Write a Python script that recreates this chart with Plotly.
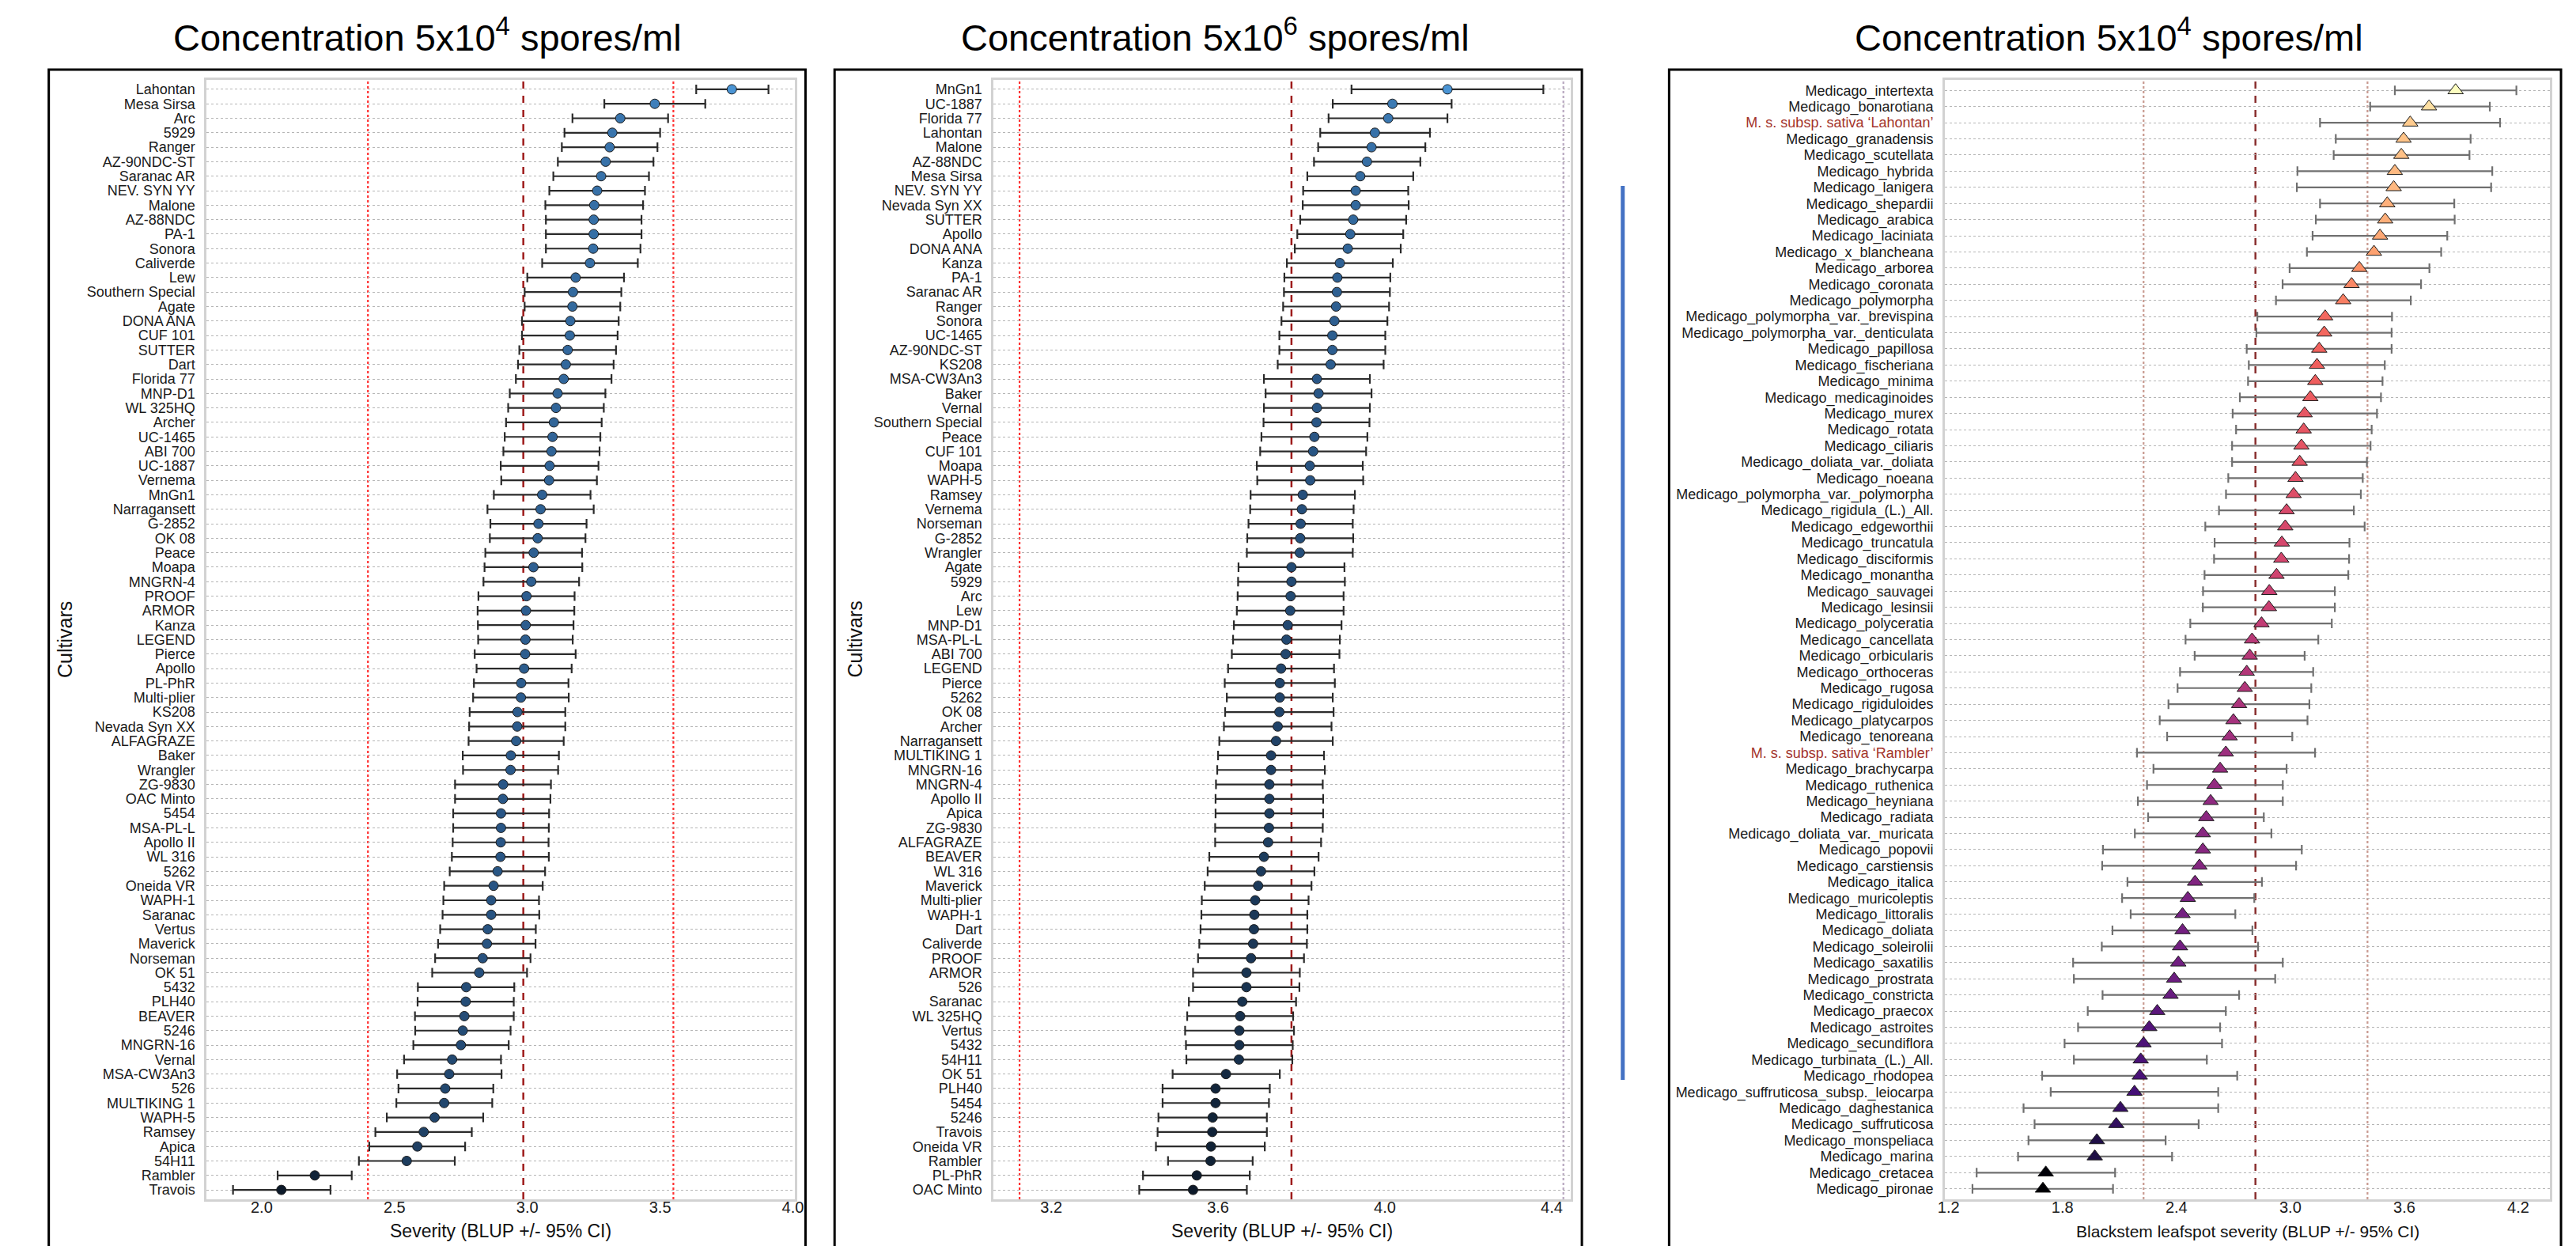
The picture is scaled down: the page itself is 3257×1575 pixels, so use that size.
import plotly.graph_objects as go

# ---------------- Panel 1: Concentration 5x10^4 spores/ml (cultivars) ----------------
p1_names = ["Lahontan", "Mesa Sirsa", "Arc", "5929", "Ranger", "AZ-90NDC-ST", "Saranac AR",
            "NEV. SYN YY", "Malone", "AZ-88NDC", "PA-1", "Sonora", "Caliverde", "Lew",
            "Southern Special", "Agate", "DONA ANA", "CUF 101", "SUTTER", "Dart", "Florida 77",
            "MNP-D1", "WL 325HQ", "Archer", "UC-1465", "ABI 700", "UC-1887", "Vernema", "MnGn1",
            "Narragansett", "G-2852", "OK 08", "Peace", "Moapa", "MNGRN-4", "PROOF", "ARMOR",
            "Kanza", "LEGEND", "Pierce", "Apollo", "PL-PhR", "Multi-plier", "KS208",
            "Nevada Syn XX", "ALFAGRAZE", "Baker", "Wrangler", "ZG-9830", "OAC Minto", "5454",
            "MSA-PL-L", "Apollo II", "WL 316", "5262", "Oneida VR", "WAPH-1", "Saranac", "Vertus",
            "Maverick", "Norseman", "OK 51", "5432", "PLH40", "BEAVER", "5246", "MNGRN-16",
            "Vernal", "MSA-CW3An3", "526", "MULTIKING 1", "WAPH-5", "Ramsey", "Apica", "54H11",
            "Rambler", "Travois"]
p1_blup = [3.770, 3.480, 3.350, 3.320, 3.310, 3.295, 3.278, 3.263, 3.252, 3.250, 3.250, 3.248,
           3.236, 3.182, 3.172, 3.170, 3.162, 3.160, 3.152, 3.145, 3.137, 3.114, 3.108, 3.100,
           3.095, 3.091, 3.084, 3.082, 3.056, 3.050, 3.042, 3.039, 3.024, 3.023, 3.015, 2.997,
           2.995, 2.994, 2.993, 2.992, 2.988, 2.977, 2.976, 2.963, 2.962, 2.958, 2.938, 2.937,
           2.909, 2.908, 2.901, 2.901, 2.900, 2.899, 2.888, 2.873, 2.864, 2.864, 2.851, 2.848,
           2.832, 2.819, 2.770, 2.768, 2.763, 2.757, 2.750, 2.717, 2.706, 2.691, 2.687, 2.651,
           2.610, 2.586, 2.546, 2.200, 2.074]
p1_lower = [3.636, 3.290, 3.170, 3.140, 3.130, 3.115, 3.098, 3.083, 3.068, 3.070, 3.070, 3.070,
            3.056, 3.000, 2.990, 2.990, 2.980, 2.980, 2.970, 2.965, 2.957, 2.934, 2.928, 2.920,
            2.915, 2.910, 2.900, 2.902, 2.874, 2.850, 2.861, 2.859, 2.842, 2.839, 2.835, 2.816,
            2.813, 2.814, 2.815, 2.802, 2.809, 2.799, 2.796, 2.783, 2.781, 2.779, 2.757, 2.758,
            2.728, 2.728, 2.721, 2.721, 2.719, 2.716, 2.708, 2.687, 2.684, 2.681, 2.672, 2.664,
            2.653, 2.642, 2.588, 2.587, 2.577, 2.578, 2.571, 2.536, 2.510, 2.515, 2.507, 2.471,
            2.428, 2.405, 2.366, 2.060, 1.892]
p1_upper = [3.908, 3.670, 3.530, 3.500, 3.490, 3.475, 3.458, 3.443, 3.436, 3.430, 3.430, 3.426,
            3.416, 3.364, 3.354, 3.350, 3.344, 3.340, 3.334, 3.325, 3.317, 3.294, 3.288, 3.280,
            3.275, 3.272, 3.268, 3.262, 3.238, 3.250, 3.223, 3.219, 3.206, 3.207, 3.195, 3.178,
            3.177, 3.174, 3.171, 3.182, 3.167, 3.155, 3.156, 3.143, 3.143, 3.137, 3.119, 3.116,
            3.089, 3.087, 3.082, 3.081, 3.080, 3.081, 3.067, 3.058, 3.044, 3.045, 3.032, 3.031,
            3.012, 2.999, 2.951, 2.949, 2.949, 2.937, 2.930, 2.901, 2.903, 2.872, 2.868, 2.834,
            2.791, 2.766, 2.727, 2.339, 2.259]
p1_ticks = [2.0, 2.5, 3.0, 3.5, 4.0]
p1_mean_line = 2.985
p1_bound_lines = [2.40, 3.55]

# ---------------- Panel 2: Concentration 5x10^6 spores/ml (cultivars) ----------------
p2_names = ["MnGn1", "UC-1887", "Florida 77", "Lahontan", "Malone", "AZ-88NDC", "Mesa Sirsa",
            "NEV. SYN YY", "Nevada Syn XX", "SUTTER", "Apollo", "DONA ANA", "Kanza", "PA-1",
            "Saranac AR", "Ranger", "Sonora", "UC-1465", "AZ-90NDC-ST", "KS208", "MSA-CW3An3",
            "Baker", "Vernal", "Southern Special", "Peace", "CUF 101", "Moapa", "WAPH-5", "Ramsey",
            "Vernema", "Norseman", "G-2852", "Wrangler", "Agate", "5929", "Arc", "Lew", "MNP-D1",
            "MSA-PL-L", "ABI 700", "LEGEND", "Pierce", "5262", "OK 08", "Archer", "Narragansett",
            "MULTIKING 1", "MNGRN-16", "MNGRN-4", "Apollo II", "Apica", "ZG-9830", "ALFAGRAZE",
            "BEAVER", "WL 316", "Maverick", "Multi-plier", "WAPH-1", "Dart", "Caliverde", "PROOF",
            "ARMOR", "526", "Saranac", "WL 325HQ", "Vertus", "5432", "54H11", "OK 51", "PLH40",
            "5454", "5246", "Travois", "Oneida VR", "Rambler", "PL-PhR", "OAC Minto"]
p2_blup = [4.150, 4.018, 4.008, 3.976, 3.968, 3.957, 3.941, 3.930, 3.930, 3.924, 3.917, 3.911,
           3.892, 3.886, 3.885, 3.883, 3.879, 3.874, 3.874, 3.870, 3.837, 3.841, 3.837, 3.836,
           3.831, 3.828, 3.820, 3.821, 3.803, 3.801, 3.798, 3.797, 3.796, 3.776, 3.776, 3.774,
           3.773, 3.767, 3.764, 3.762, 3.751, 3.748, 3.748, 3.747, 3.743, 3.739, 3.727, 3.727,
           3.723, 3.723, 3.723, 3.722, 3.720, 3.710, 3.703, 3.696, 3.689, 3.687, 3.686, 3.684,
           3.679, 3.668, 3.668, 3.658, 3.653, 3.651, 3.651, 3.650, 3.619, 3.594, 3.594, 3.587,
           3.586, 3.583, 3.582, 3.549, 3.540]
p2_lower = [3.920, 3.875, 3.865, 3.845, 3.840, 3.830, 3.814, 3.804, 3.803, 3.797, 3.790, 3.784,
            3.765, 3.759, 3.758, 3.756, 3.752, 3.747, 3.747, 3.743, 3.710, 3.714, 3.710, 3.709,
            3.704, 3.701, 3.693, 3.694, 3.678, 3.677, 3.673, 3.670, 3.669, 3.649, 3.648, 3.647,
            3.645, 3.638, 3.636, 3.633, 3.624, 3.616, 3.621, 3.617, 3.614, 3.603, 3.600, 3.598,
            3.595, 3.594, 3.594, 3.593, 3.593, 3.579, 3.575, 3.568, 3.561, 3.560, 3.558, 3.555,
            3.552, 3.540, 3.540, 3.530, 3.526, 3.521, 3.523, 3.524, 3.491, 3.467, 3.467, 3.457,
            3.455, 3.451, 3.480, 3.420, 3.411]
p2_upper = [4.380, 4.160, 4.150, 4.108, 4.097, 4.085, 4.068, 4.056, 4.057, 4.051, 4.044, 4.038,
            4.019, 4.013, 4.012, 4.010, 4.006, 4.001, 4.001, 3.997, 3.964, 3.968, 3.964, 3.963,
            3.958, 3.955, 3.947, 3.948, 3.928, 3.925, 3.923, 3.924, 3.923, 3.903, 3.904, 3.901,
            3.901, 3.896, 3.892, 3.891, 3.878, 3.880, 3.875, 3.877, 3.872, 3.875, 3.854, 3.856,
            3.851, 3.852, 3.852, 3.851, 3.847, 3.841, 3.831, 3.824, 3.817, 3.814, 3.814, 3.813,
            3.806, 3.796, 3.795, 3.787, 3.780, 3.782, 3.779, 3.778, 3.748, 3.724, 3.722, 3.717,
            3.717, 3.712, 3.683, 3.676, 3.669]
p2_ticks = [3.2, 3.6, 4.0, 4.4]
p2_mean_line = 3.776
p2_bound_lines = [3.124, 4.428]

# ---------------- Panel 3: Concentration 5x10^4 spores/ml (Medicago species) ----------------
p3_names = ["Medicago_intertexta", "Medicago_bonarotiana", "M. s. subsp. sativa \u2018Lahontan\u2019",
            "Medicago_granadensis", "Medicago_scutellata", "Medicago_hybrida", "Medicago_lanigera",
            "Medicago_shepardii", "Medicago_arabica", "Medicago_laciniata", "Medicago_x_blancheana",
            "Medicago_arborea", "Medicago_coronata", "Medicago_polymorpha",
            "Medicago_polymorpha_var._brevispina", "Medicago_polymorpha_var._denticulata",
            "Medicago_papillosa", "Medicago_fischeriana", "Medicago_minima",
            "Medicago_medicaginoides", "Medicago_murex", "Medicago_rotata", "Medicago_ciliaris",
            "Medicago_doliata_var._doliata", "Medicago_noeana", "Medicago_polymorpha_var._polymorpha",
            "Medicago_rigidula_(L.)_All.", "Medicago_edgeworthii", "Medicago_truncatula",
            "Medicago_disciformis", "Medicago_monantha", "Medicago_sauvagei", "Medicago_lesinsii",
            "Medicago_polyceratia", "Medicago_cancellata", "Medicago_orbicularis",
            "Medicago_orthoceras", "Medicago_rugosa", "Medicago_rigiduloides",
            "Medicago_platycarpos", "Medicago_tenoreana", "M. s. subsp. sativa \u2018Rambler\u2019",
            "Medicago_brachycarpa", "Medicago_ruthenica", "Medicago_heyniana", "Medicago_radiata",
            "Medicago_doliata_var._muricata", "Medicago_popovii", "Medicago_carstiensis",
            "Medicago_italica", "Medicago_muricoleptis", "Medicago_littoralis", "Medicago_doliata",
            "Medicago_soleirolii", "Medicago_saxatilis", "Medicago_prostrata", "Medicago_constricta",
            "Medicago_praecox", "Medicago_astroites", "Medicago_secundiflora",
            "Medicago_turbinata_(L.)_All.", "Medicago_rhodopea",
            "Medicago_suffruticosa_subsp._leiocarpa", "Medicago_daghestanica",
            "Medicago_suffruticosa", "Medicago_monspeliaca", "Medicago_marina", "Medicago_cretacea",
            "Medicago_pironae"]
p3_highlight = ["M. s. subsp. sativa \u2018Lahontan\u2019", "M. s. subsp. sativa \u2018Rambler\u2019"]
p3_blup = [3.870, 3.730, 3.631, 3.596, 3.584, 3.550, 3.544, 3.510, 3.499, 3.472, 3.440, 3.363,
           3.322, 3.278, 3.183, 3.178, 3.152, 3.140, 3.131, 3.105, 3.075, 3.070, 3.058, 3.049,
           3.027, 3.017, 2.980, 2.973, 2.955, 2.952, 2.927, 2.889, 2.887, 2.848, 2.798, 2.786,
           2.770, 2.760, 2.730, 2.700, 2.680, 2.660, 2.630, 2.600, 2.580, 2.557, 2.539, 2.539,
           2.521, 2.498, 2.460, 2.432, 2.432, 2.419, 2.410, 2.388, 2.369, 2.299, 2.257, 2.227,
           2.212, 2.207, 2.179, 2.105, 2.083, 1.981, 1.970, 1.712, 1.697]
p3_lower = [3.550, 3.420, 3.156, 3.239, 3.228, 3.037, 3.034, 3.156, 3.134, 3.117, 3.087, 2.996,
            2.959, 2.924, 2.826, 2.821, 2.770, 2.781, 2.777, 2.734, 2.696, 2.714, 2.693, 2.693,
            2.673, 2.661, 2.624, 2.552, 2.601, 2.598, 2.548, 2.540, 2.539, 2.473, 2.448, 2.496,
            2.419, 2.406, 2.358, 2.312, 2.351, 2.192, 2.279, 2.245, 2.197, 2.251, 2.181, 2.013,
            2.009, 2.142, 2.114, 2.159, 2.063, 2.007, 1.856, 1.860, 2.011, 1.933, 1.882, 1.811,
            1.860, 1.693, 1.738, 1.595, 1.653, 1.621, 1.566, 1.348, 1.326]
p3_upper = [4.190, 4.050, 4.104, 3.949, 3.943, 4.063, 4.057, 3.863, 3.865, 3.826, 3.794, 3.732,
            3.688, 3.634, 3.535, 3.533, 3.533, 3.497, 3.485, 3.477, 3.456, 3.428, 3.422, 3.403,
            3.381, 3.371, 3.334, 3.391, 3.311, 3.309, 3.305, 3.234, 3.234, 3.218, 3.147, 3.075,
            3.120, 3.110, 3.100, 3.090, 3.010, 3.130, 2.980, 2.960, 2.960, 2.860, 2.900, 3.060,
            3.030, 2.850, 2.810, 2.710, 2.800, 2.830, 2.960, 2.920, 2.730, 2.660, 2.630, 2.640,
            2.560, 2.720, 2.620, 2.620, 2.517, 2.343, 2.377, 2.077, 2.066]
p3_ticks = [1.2, 1.8, 2.4, 3.0, 3.6, 4.2]
p3_mean_line = 2.816
p3_bound_lines = [2.227, 3.406]

titles = ["Concentration 5x10<sup>4</sup> spores/ml", "Concentration 5x10<sup>6</sup> spores/ml",
          "Concentration 5x10<sup>4</sup> spores/ml"]
x_titles = ["Severity (BLUP +/- 95% CI)", "Severity (BLUP +/- 95% CI)",
            "Blackstem leafspot severity (BLUP +/- 95% CI)"]
y_title = "Cultivars"

# ---------------- layout geometry (pixels) ----------------
W, H = 3257, 1575
FONT = "Liberation Sans, Arial, Helvetica, sans-serif"


def fx(px):
    return px / W


def fy(py):
    return 1 - py / H


plot_top, plot_bot = 101, 1516
plots_x = [(254, 1002), (1255.5, 1990), (2466, 3236)]
boxes_x = [(53, 1016), (1053, 2004), (2115, 3250)]
title_cx = [535, 1537, 2675]
xranges = [(1.793, 4.006), (3.062, 4.446), (1.181, 4.367)]

blue_scale = [[0.0, "#0d1a2a"], [0.5, "#2a5888"], [1.0, "#4a94d4"]]

fig = go.Figure()

panels = [
    dict(names=p1_names, blup=p1_blup, lo=p1_lower, hi=p1_upper, ticks=p1_ticks,
         mean=p1_mean_line, bounds=p1_bound_lines, symbol="circle", size=12, cs=blue_scale,
         eb="#2b2b2b", mean_col="#9e1b1b", bound_col=["#ff3030", "#ff3030"],
         ticktext=list(p1_names)),
    dict(names=p2_names, blup=p2_blup, lo=p2_lower, hi=p2_upper, ticks=p2_ticks,
         mean=p2_mean_line, bounds=p2_bound_lines, symbol="circle", size=12, cs=blue_scale,
         eb="#2b2b2b", mean_col="#9e1b1b", bound_col=["#ff3030", "#b8a8c0"],
         ticktext=list(p2_names)),
    dict(names=p3_names, blup=p3_blup, lo=p3_lower, hi=p3_upper, ticks=p3_ticks,
         mean=p3_mean_line, bounds=p3_bound_lines, symbol="triangle-up", size=17, cs="Magma",
         eb="#707070", mean_col="#8a3030", bound_col=["#c89a90", "#c89a90"],
         ticktext=[('<span style="color:#a3342c">%s</span>' % n) if n in p3_highlight else n
                   for n in p3_names]),
]

shapes = []
annotations = []
for i, p in enumerate(panels):
    k = "" if i == 0 else str(i + 1)
    n = len(p["names"])
    fig.add_trace(go.Scatter(
        x=p["blup"], y=p["names"], xaxis="x" + k, yaxis="y" + k, mode="markers",
        error_x=dict(type="data", symmetric=False,
                     array=[h - b for h, b in zip(p["hi"], p["blup"])],
                     arrayminus=[b - l for b, l in zip(p["blup"], p["lo"])],
                     color=p["eb"], thickness=2.2, width=6),
        marker=dict(symbol=p["symbol"], size=p["size"], color=p["blup"], colorscale=p["cs"],
                    cmin=min(p["blup"]), cmax=max(p["blup"]),
                    line=dict(color="#1c1c1c", width=1)),
        showlegend=False, hoverinfo="skip"))
    x0, x1 = plots_x[i]
    yaxis = dict(type="category", categoryorder="array", categoryarray=p["names"],
                 range=[n - 1 + 0.65, -0.65], domain=[fy(plot_bot), fy(plot_top)],
                 anchor="x" + k, showgrid=True, griddash="dot", gridcolor="#b5b5b5",
                 gridwidth=1, showline=True, mirror=True, linecolor="#d2d2d2", linewidth=3,
                 ticks="", ticklabelstandoff=8, zeroline=False,
                 tickmode="array", tickvals=p["names"], ticktext=p["ticktext"],
                 tickfont=dict(family=FONT, size=18, color="#1a1a1a"))
    xaxis = dict(range=list(xranges[i]), domain=[fx(x0), fx(x1)], anchor="y" + k,
                 tickmode="array", tickvals=p["ticks"], tickformat=".1f", showgrid=False,
                 zeroline=False, showline=True, mirror=True, linecolor="#d2d2d2", linewidth=3,
                 ticks="", ticklabelstandoff=-10,
                 tickfont=dict(family=FONT, size=20, color="#1a1a1a"))
    fig.update_layout(**{"xaxis" + k: xaxis, "yaxis" + k: yaxis})

    # reference lines
    shapes.append(dict(type="line", xref="x" + k, yref="y%s domain" % k, x0=p["mean"], x1=p["mean"],
                       y0=0, y1=1, layer="below",
                       line=dict(color=p["mean_col"], width=2.5, dash="dash")))
    for bv, bc in zip(p["bounds"], p["bound_col"]):
        shapes.append(dict(type="line", xref="x" + k, yref="y%s domain" % k, x0=bv, x1=bv,
                           y0=0, y1=1, layer="below",
                           line=dict(color=bc, width=2.2, dash="dot")))
    # black panel box
    bx0, bx1 = boxes_x[i]
    shapes.append(dict(type="rect", xref="paper", yref="paper", x0=fx(bx0), x1=fx(bx1),
                       y0=fy(1590), y1=fy(88), line=dict(color="black", width=3),
                       fillcolor="rgba(0,0,0,0)", layer="above"))
    # titles
    annotations.append(dict(text=titles[i], xref="paper", yref="paper", x=fx(title_cx[i]),
                            y=fy(44), xanchor="center", yanchor="middle", showarrow=False,
                            font=dict(family=FONT, size=47, color="black")))
    annotations.append(dict(text=x_titles[i], xref="paper", yref="paper",
                            x=fx((x0 + x1) / 2), y=fy(1556), xanchor="center", yanchor="middle",
                            showarrow=False,
                            font=dict(family=FONT, size=23 if i < 2 else 21, color="#111111")))

for cx in [73, 1078]:
    annotations.append(dict(text=y_title, xref="paper", yref="paper", x=fx(cx),
                            y=fy((plot_top + plot_bot) / 2), xanchor="center", yanchor="middle",
                            textangle=-90, showarrow=False,
                            font=dict(family=FONT, size=25, color="#111111")))

# blue separator line between panels 2 and 3
shapes.append(dict(type="line", xref="paper", yref="paper", x0=fx(2056), x1=fx(2056),
                   y0=fy(235), y1=fy(1365), line=dict(color="#4472c4", width=5)))

fig.update_layout(width=W, height=H, margin=dict(l=0, r=0, t=0, b=0), autosize=False,
                  paper_bgcolor="white", plot_bgcolor="white", shapes=shapes,
                  annotations=annotations, font=dict(family=FONT))

fig.write_html("out.html", config={"displayModeBar": False},
               post_script="document.body.style.margin='0';")
